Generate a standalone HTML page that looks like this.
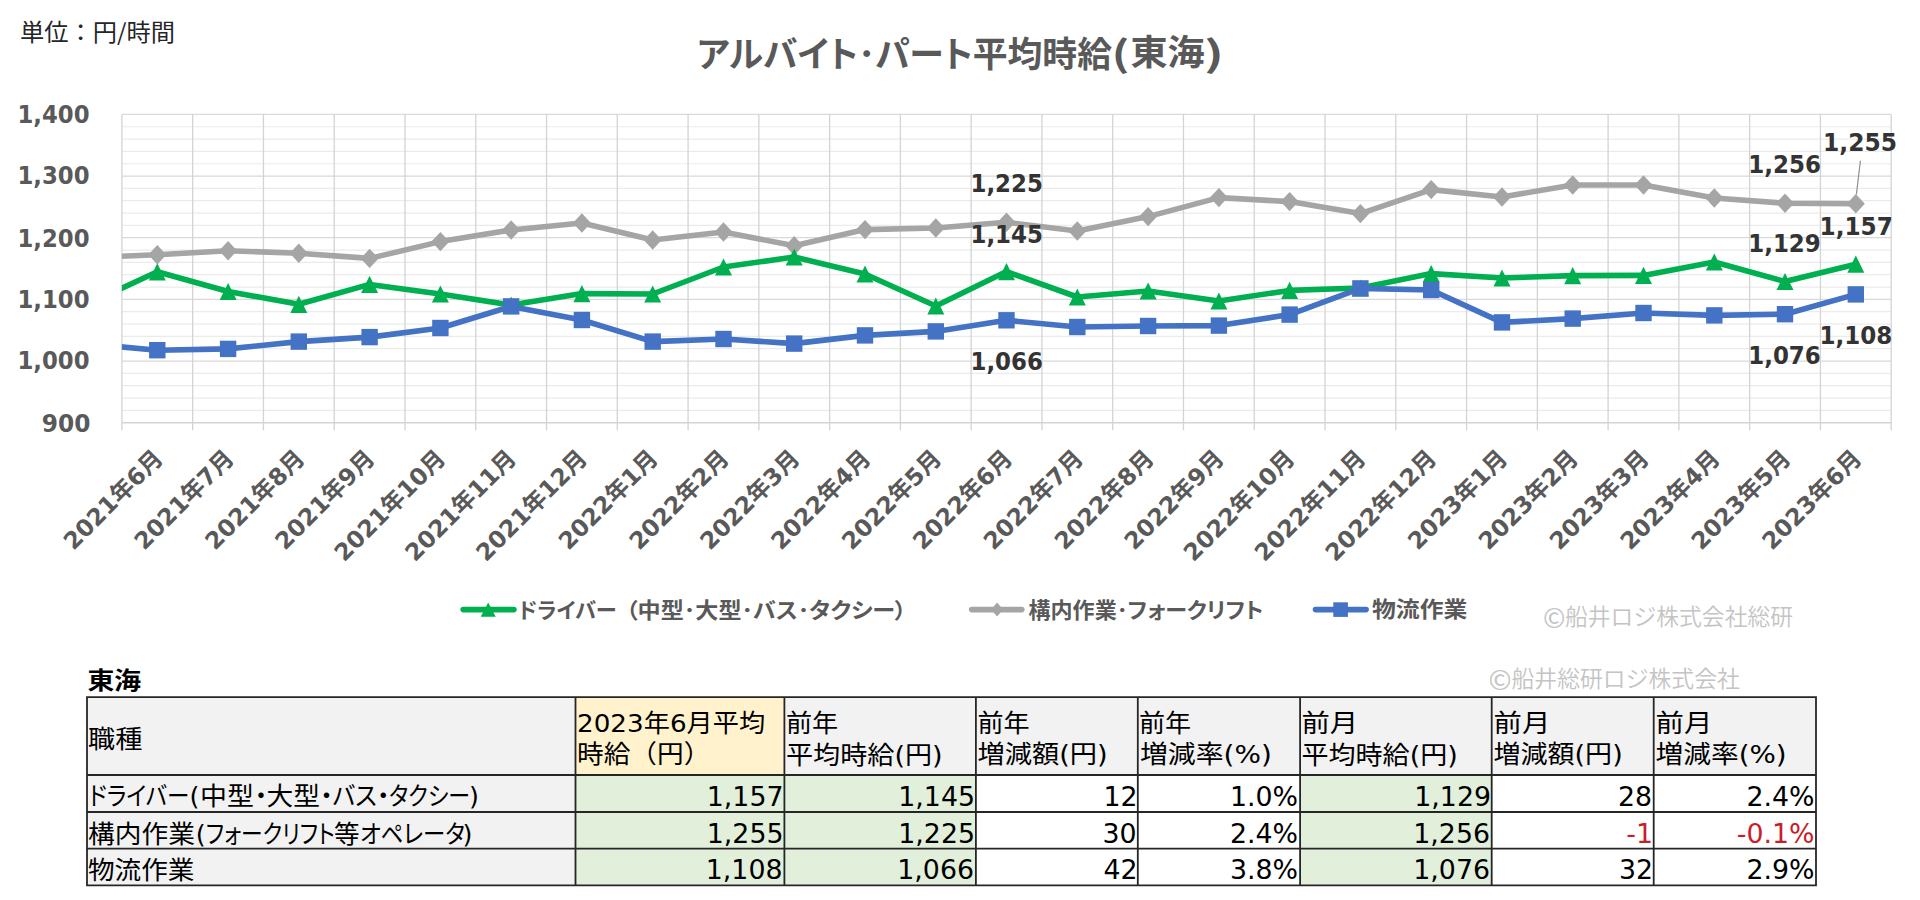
<!DOCTYPE html><html lang="ja"><head><meta charset="utf-8"><title>アルバイト・パート平均時給(東海)</title>
<style>html,body{margin:0;padding:0;background:#fff;}body{width:1920px;height:900px;overflow:hidden;position:relative;}svg{position:absolute;left:0;top:0;display:block;}</style></head><body>
<svg width="1920" height="900" viewBox="0 0 1920 900">
<defs><clipPath id="pc"><rect x="121.9" y="84.4" width="1769.3" height="368.3"/></clipPath></defs>
<rect width="1920" height="900" fill="#fff"/>
<path d="M121.9 126.73H1891.2 M121.9 139.06H1891.2 M121.9 151.40H1891.2 M121.9 163.73H1891.2 M121.9 188.39H1891.2 M121.9 200.72H1891.2 M121.9 213.06H1891.2 M121.9 225.39H1891.2 M121.9 250.05H1891.2 M121.9 262.38H1891.2 M121.9 274.72H1891.2 M121.9 287.05H1891.2 M121.9 311.71H1891.2 M121.9 324.04H1891.2 M121.9 336.38H1891.2 M121.9 348.71H1891.2 M121.9 373.37H1891.2 M121.9 385.70H1891.2 M121.9 398.04H1891.2 M121.9 410.37H1891.2" stroke="#ebebeb" stroke-width="1.2" fill="none"/>
<path d="M121.9 114.40H1891.2 M121.9 176.06H1891.2 M121.9 237.72H1891.2 M121.9 299.38H1891.2 M121.9 361.04H1891.2" stroke="#d9d9d9" stroke-width="1.3" fill="none"/>
<path d="M121.90 114.4V430.2 M192.67 114.4V430.2 M263.44 114.4V430.2 M334.22 114.4V430.2 M404.99 114.4V430.2 M475.76 114.4V430.2 M546.53 114.4V430.2 M617.30 114.4V430.2 M688.08 114.4V430.2 M758.85 114.4V430.2 M829.62 114.4V430.2 M900.39 114.4V430.2 M971.16 114.4V430.2 M1041.94 114.4V430.2 M1112.71 114.4V430.2 M1183.48 114.4V430.2 M1254.25 114.4V430.2 M1325.02 114.4V430.2 M1395.80 114.4V430.2 M1466.57 114.4V430.2 M1537.34 114.4V430.2 M1608.11 114.4V430.2 M1678.88 114.4V430.2 M1749.66 114.4V430.2 M1820.43 114.4V430.2 M1891.20 114.4V430.2" stroke="#d4d4d4" stroke-width="1.3" fill="none"/>
<path d="M121.9 422.70H1891.2" stroke="#d4d4d4" stroke-width="1.5" fill="none"/>
<path d="M86.5 257.5 L157.3 254.8 L228.1 250.7 L298.8 253.3 L369.6 258.4 L440.4 241.6 L511.1 230.0 L581.9 223.0 L652.7 240.0 L723.5 232.0 L794.2 245.8 L865.0 229.6 L935.8 228.0 L1006.5 222.3 L1077.3 231.0 L1148.1 216.6 L1218.9 197.6 L1289.6 201.6 L1360.4 213.6 L1431.2 189.6 L1502.0 197.0 L1572.7 185.0 L1643.5 185.0 L1714.3 198.0 L1785.0 203.2 L1855.8 203.8" stroke="#a5a5a5" stroke-width="5.6" fill="none" stroke-linejoin="round" stroke-linecap="round" clip-path="url(#pc)"/>
<path d="M157.3 245.1L166.3 254.8L157.3 264.5L148.3 254.8Z" fill="#a5a5a5"/><path d="M228.1 241.0L237.1 250.7L228.1 260.4L219.1 250.7Z" fill="#a5a5a5"/><path d="M298.8 243.6L307.8 253.3L298.8 263.0L289.8 253.3Z" fill="#a5a5a5"/><path d="M369.6 248.7L378.6 258.4L369.6 268.1L360.6 258.4Z" fill="#a5a5a5"/><path d="M440.4 231.9L449.4 241.6L440.4 251.3L431.4 241.6Z" fill="#a5a5a5"/><path d="M511.1 220.3L520.1 230.0L511.1 239.7L502.1 230.0Z" fill="#a5a5a5"/><path d="M581.9 213.3L590.9 223.0L581.9 232.7L572.9 223.0Z" fill="#a5a5a5"/><path d="M652.7 230.3L661.7 240.0L652.7 249.7L643.7 240.0Z" fill="#a5a5a5"/><path d="M723.5 222.3L732.5 232.0L723.5 241.7L714.5 232.0Z" fill="#a5a5a5"/><path d="M794.2 236.1L803.2 245.8L794.2 255.5L785.2 245.8Z" fill="#a5a5a5"/><path d="M865.0 219.9L874.0 229.6L865.0 239.3L856.0 229.6Z" fill="#a5a5a5"/><path d="M935.8 218.3L944.8 228.0L935.8 237.7L926.8 228.0Z" fill="#a5a5a5"/><path d="M1006.5 212.6L1015.5 222.3L1006.5 232.0L997.5 222.3Z" fill="#a5a5a5"/><path d="M1077.3 221.3L1086.3 231.0L1077.3 240.7L1068.3 231.0Z" fill="#a5a5a5"/><path d="M1148.1 206.9L1157.1 216.6L1148.1 226.3L1139.1 216.6Z" fill="#a5a5a5"/><path d="M1218.9 187.9L1227.9 197.6L1218.9 207.3L1209.9 197.6Z" fill="#a5a5a5"/><path d="M1289.6 191.9L1298.6 201.6L1289.6 211.3L1280.6 201.6Z" fill="#a5a5a5"/><path d="M1360.4 203.9L1369.4 213.6L1360.4 223.3L1351.4 213.6Z" fill="#a5a5a5"/><path d="M1431.2 179.9L1440.2 189.6L1431.2 199.3L1422.2 189.6Z" fill="#a5a5a5"/><path d="M1502.0 187.3L1511.0 197.0L1502.0 206.7L1493.0 197.0Z" fill="#a5a5a5"/><path d="M1572.7 175.3L1581.7 185.0L1572.7 194.7L1563.7 185.0Z" fill="#a5a5a5"/><path d="M1643.5 175.3L1652.5 185.0L1643.5 194.7L1634.5 185.0Z" fill="#a5a5a5"/><path d="M1714.3 188.3L1723.3 198.0L1714.3 207.7L1705.3 198.0Z" fill="#a5a5a5"/><path d="M1785.0 193.5L1794.0 203.2L1785.0 212.9L1776.0 203.2Z" fill="#a5a5a5"/><path d="M1855.8 194.1L1864.8 203.8L1855.8 213.5L1846.8 203.8Z" fill="#a5a5a5"/>
<path d="M86.5 304.5 L157.3 271.8 L228.1 291.5 L298.8 304.3 L369.6 284.4 L440.4 294.0 L511.1 305.0 L581.9 293.6 L652.7 294.0 L723.5 267.0 L794.2 257.0 L865.0 274.0 L935.8 306.0 L1006.5 271.6 L1077.3 297.0 L1148.1 291.0 L1218.9 301.0 L1289.6 290.4 L1360.4 288.0 L1431.2 273.6 L1502.0 278.0 L1572.7 275.6 L1643.5 275.4 L1714.3 262.0 L1785.0 281.5 L1855.8 264.2" stroke="#00b050" stroke-width="5.6" fill="none" stroke-linejoin="round" stroke-linecap="round" clip-path="url(#pc)"/>
<path d="M157.3 263.2L165.8 280.4L148.8 280.4Z" fill="#00b050"/><path d="M228.1 282.9L236.6 300.1L219.6 300.1Z" fill="#00b050"/><path d="M298.8 295.7L307.3 312.9L290.3 312.9Z" fill="#00b050"/><path d="M369.6 275.8L378.1 293.0L361.1 293.0Z" fill="#00b050"/><path d="M440.4 285.4L448.9 302.6L431.9 302.6Z" fill="#00b050"/><path d="M511.1 296.4L519.6 313.6L502.6 313.6Z" fill="#00b050"/><path d="M581.9 285.0L590.4 302.2L573.4 302.2Z" fill="#00b050"/><path d="M652.7 285.4L661.2 302.6L644.2 302.6Z" fill="#00b050"/><path d="M723.5 258.4L732.0 275.6L715.0 275.6Z" fill="#00b050"/><path d="M794.2 248.4L802.7 265.6L785.7 265.6Z" fill="#00b050"/><path d="M865.0 265.4L873.5 282.6L856.5 282.6Z" fill="#00b050"/><path d="M935.8 297.4L944.3 314.6L927.3 314.6Z" fill="#00b050"/><path d="M1006.5 263.0L1015.0 280.2L998.0 280.2Z" fill="#00b050"/><path d="M1077.3 288.4L1085.8 305.6L1068.8 305.6Z" fill="#00b050"/><path d="M1148.1 282.4L1156.6 299.6L1139.6 299.6Z" fill="#00b050"/><path d="M1218.9 292.4L1227.4 309.6L1210.4 309.6Z" fill="#00b050"/><path d="M1289.6 281.8L1298.1 299.0L1281.1 299.0Z" fill="#00b050"/><path d="M1360.4 279.4L1368.9 296.6L1351.9 296.6Z" fill="#00b050"/><path d="M1431.2 265.0L1439.7 282.2L1422.7 282.2Z" fill="#00b050"/><path d="M1502.0 269.4L1510.5 286.6L1493.5 286.6Z" fill="#00b050"/><path d="M1572.7 267.0L1581.2 284.2L1564.2 284.2Z" fill="#00b050"/><path d="M1643.5 266.8L1652.0 284.0L1635.0 284.0Z" fill="#00b050"/><path d="M1714.3 253.4L1722.8 270.6L1705.8 270.6Z" fill="#00b050"/><path d="M1785.0 272.9L1793.5 290.1L1776.5 290.1Z" fill="#00b050"/><path d="M1855.8 255.6L1864.3 272.8L1847.3 272.8Z" fill="#00b050"/>
<path d="M86.5 343.7 L157.3 350.2 L228.1 348.9 L298.8 341.6 L369.6 337.1 L440.4 328.0 L511.1 306.4 L581.9 320.0 L652.7 341.6 L723.5 339.0 L794.2 343.6 L865.0 335.4 L935.8 331.4 L1006.5 320.3 L1077.3 327.0 L1148.1 326.0 L1218.9 325.6 L1289.6 314.6 L1360.4 288.4 L1431.2 290.0 L1502.0 322.4 L1572.7 318.6 L1643.5 313.0 L1714.3 315.4 L1785.0 314.2 L1855.8 294.4" stroke="#4472c4" stroke-width="5.6" fill="none" stroke-linejoin="round" stroke-linecap="round" clip-path="url(#pc)"/>
<rect x="149.1" y="342.0" width="16.4" height="16.4" fill="#4472c4"/><rect x="219.9" y="340.7" width="16.4" height="16.4" fill="#4472c4"/><rect x="290.6" y="333.4" width="16.4" height="16.4" fill="#4472c4"/><rect x="361.4" y="328.9" width="16.4" height="16.4" fill="#4472c4"/><rect x="432.2" y="319.8" width="16.4" height="16.4" fill="#4472c4"/><rect x="502.9" y="298.2" width="16.4" height="16.4" fill="#4472c4"/><rect x="573.7" y="311.8" width="16.4" height="16.4" fill="#4472c4"/><rect x="644.5" y="333.4" width="16.4" height="16.4" fill="#4472c4"/><rect x="715.3" y="330.8" width="16.4" height="16.4" fill="#4472c4"/><rect x="786.0" y="335.4" width="16.4" height="16.4" fill="#4472c4"/><rect x="856.8" y="327.2" width="16.4" height="16.4" fill="#4472c4"/><rect x="927.6" y="323.2" width="16.4" height="16.4" fill="#4472c4"/><rect x="998.3" y="312.1" width="16.4" height="16.4" fill="#4472c4"/><rect x="1069.1" y="318.8" width="16.4" height="16.4" fill="#4472c4"/><rect x="1139.9" y="317.8" width="16.4" height="16.4" fill="#4472c4"/><rect x="1210.7" y="317.4" width="16.4" height="16.4" fill="#4472c4"/><rect x="1281.4" y="306.4" width="16.4" height="16.4" fill="#4472c4"/><rect x="1352.2" y="280.2" width="16.4" height="16.4" fill="#4472c4"/><rect x="1423.0" y="281.8" width="16.4" height="16.4" fill="#4472c4"/><rect x="1493.8" y="314.2" width="16.4" height="16.4" fill="#4472c4"/><rect x="1564.5" y="310.4" width="16.4" height="16.4" fill="#4472c4"/><rect x="1635.3" y="304.8" width="16.4" height="16.4" fill="#4472c4"/><rect x="1706.1" y="307.2" width="16.4" height="16.4" fill="#4472c4"/><rect x="1776.8" y="306.0" width="16.4" height="16.4" fill="#4472c4"/><rect x="1847.6" y="286.2" width="16.4" height="16.4" fill="#4472c4"/>
<path d="M1860.4 160.8L1856.4 194.5" stroke="#8f8f8f" stroke-width="1.2" fill="none"/>
<path d="M463.2 609.6H513.9" stroke="#00b050" stroke-width="5.6" stroke-linecap="round"/><path d="M488.2 602.5L495.7 616.7L480.7 616.7Z" fill="#00b050"/>
<path d="M971.7 609.6H1021.8" stroke="#a5a5a5" stroke-width="5.6" stroke-linecap="round"/><path d="M997.1 602.6L1003.1 609.6L997.1 616.6L991.1 609.6Z" fill="#a5a5a5"/>
<path d="M1315.5 609.6H1366.1" stroke="#4472c4" stroke-width="5.6" stroke-linecap="round"/><rect x="1333.3" y="602.3" width="14.6" height="14.6" fill="#4472c4"/>
<rect x="87.0" y="697.1" width="488.5" height="77.9" fill="#f2f2f2"/>
<rect x="575.5" y="697.1" width="208.9" height="77.9" fill="#fff2cc"/>
<rect x="784.4" y="697.1" width="191.5" height="77.9" fill="#f2f2f2"/>
<rect x="975.9" y="697.1" width="161.9" height="77.9" fill="#f2f2f2"/>
<rect x="1137.8" y="697.1" width="162.3" height="77.9" fill="#f2f2f2"/>
<rect x="1300.1" y="697.1" width="191.6" height="77.9" fill="#f2f2f2"/>
<rect x="1491.7" y="697.1" width="162.0" height="77.9" fill="#f2f2f2"/>
<rect x="1653.7" y="697.1" width="162.3" height="77.9" fill="#f2f2f2"/>
<rect x="87.0" y="775.0" width="488.5" height="37.0" fill="#f2f2f2"/>
<rect x="575.5" y="775.0" width="208.9" height="37.0" fill="#e2efda"/>
<rect x="784.4" y="775.0" width="191.5" height="37.0" fill="#e2efda"/>
<rect x="975.9" y="775.0" width="161.9" height="37.0" fill="#fff"/>
<rect x="1137.8" y="775.0" width="162.3" height="37.0" fill="#fff"/>
<rect x="1300.1" y="775.0" width="191.6" height="37.0" fill="#e2efda"/>
<rect x="1491.7" y="775.0" width="162.0" height="37.0" fill="#fff"/>
<rect x="1653.7" y="775.0" width="162.3" height="37.0" fill="#fff"/>
<rect x="87.0" y="812.0" width="488.5" height="36.6" fill="#f2f2f2"/>
<rect x="575.5" y="812.0" width="208.9" height="36.6" fill="#e2efda"/>
<rect x="784.4" y="812.0" width="191.5" height="36.6" fill="#e2efda"/>
<rect x="975.9" y="812.0" width="161.9" height="36.6" fill="#fff"/>
<rect x="1137.8" y="812.0" width="162.3" height="36.6" fill="#fff"/>
<rect x="1300.1" y="812.0" width="191.6" height="36.6" fill="#e2efda"/>
<rect x="1491.7" y="812.0" width="162.0" height="36.6" fill="#fff"/>
<rect x="1653.7" y="812.0" width="162.3" height="36.6" fill="#fff"/>
<rect x="87.0" y="848.6" width="488.5" height="36.8" fill="#f2f2f2"/>
<rect x="575.5" y="848.6" width="208.9" height="36.8" fill="#e2efda"/>
<rect x="784.4" y="848.6" width="191.5" height="36.8" fill="#e2efda"/>
<rect x="975.9" y="848.6" width="161.9" height="36.8" fill="#fff"/>
<rect x="1137.8" y="848.6" width="162.3" height="36.8" fill="#fff"/>
<rect x="1300.1" y="848.6" width="191.6" height="36.8" fill="#e2efda"/>
<rect x="1491.7" y="848.6" width="162.0" height="36.8" fill="#fff"/>
<rect x="1653.7" y="848.6" width="162.3" height="36.8" fill="#fff"/>
<path d="M86.1 697.1H1816.9 M86.1 775.0H1816.9 M86.1 812.0H1816.9 M86.1 848.6H1816.9 M86.1 885.4H1816.9 M87.0 697.1V885.4 M575.5 697.1V885.4 M784.4 697.1V885.4 M975.9 697.1V885.4 M1137.8 697.1V885.4 M1300.1 697.1V885.4 M1491.7 697.1V885.4 M1653.7 697.1V885.4 M1816.0 697.1V885.4" stroke="#262626" stroke-width="1.8" fill="none"/>
<text x="20.00" y="40.97" font-family="'Noto Sans CJK JP',sans-serif" font-weight="400" font-size="23.5" fill="#262626" textLength="155.02" lengthAdjust="spacingAndGlyphs">単位：円/時間</text>
<text x="697.00" y="66.67" font-family="'Noto Sans CJK JP',sans-serif" font-weight="700" font-size="35.5" fill="#595959" textLength="415.00" lengthAdjust="spacingAndGlyphs" style="font-feature-settings:'palt'">アルバイト･パート平均時給</text>
<text x="1111.50" y="66.67" font-family="'Noto Sans CJK JP',sans-serif" font-weight="700" font-size="35.5" fill="#595959" textLength="18.12" lengthAdjust="spacingAndGlyphs">(</text>
<text x="1130.50" y="65.18" font-family="'Noto Sans CJK JP',sans-serif" font-weight="700" font-size="35.5" fill="#595959" textLength="74.21" lengthAdjust="spacingAndGlyphs">東海</text>
<text x="1204.00" y="66.67" font-family="'Noto Sans CJK JP',sans-serif" font-weight="700" font-size="35.5" fill="#595959" textLength="20.01" lengthAdjust="spacingAndGlyphs">)</text>
<text x="89.50" y="123.00" text-anchor="end" font-family="'DejaVu Sans','Noto Sans CJK JP',sans-serif" font-weight="700" font-size="24" fill="#595959" textLength="72.03" lengthAdjust="spacingAndGlyphs">1,400</text>
<text x="89.50" y="184.30" text-anchor="end" font-family="'DejaVu Sans','Noto Sans CJK JP',sans-serif" font-weight="700" font-size="24" fill="#595959" textLength="72.03" lengthAdjust="spacingAndGlyphs">1,300</text>
<text x="89.50" y="246.60" text-anchor="end" font-family="'DejaVu Sans','Noto Sans CJK JP',sans-serif" font-weight="700" font-size="24" fill="#595959" textLength="72.03" lengthAdjust="spacingAndGlyphs">1,200</text>
<text x="89.50" y="307.90" text-anchor="end" font-family="'DejaVu Sans','Noto Sans CJK JP',sans-serif" font-weight="700" font-size="24" fill="#595959" textLength="72.03" lengthAdjust="spacingAndGlyphs">1,100</text>
<text x="89.50" y="369.20" text-anchor="end" font-family="'DejaVu Sans','Noto Sans CJK JP',sans-serif" font-weight="700" font-size="24" fill="#595959" textLength="72.03" lengthAdjust="spacingAndGlyphs">1,000</text>
<text x="90.50" y="431.50" text-anchor="end" font-family="'DejaVu Sans','Noto Sans CJK JP',sans-serif" font-weight="700" font-size="24" fill="#595959" textLength="48.65" lengthAdjust="spacingAndGlyphs">900</text>
<text transform="translate(164.43 460.00) rotate(-45)" text-anchor="end" font-family="'DejaVu Sans','Noto Sans CJK JP',sans-serif" font-weight="700" font-size="23.5" fill="#595959">2021年6月</text>
<text transform="translate(235.29 460.00) rotate(-45)" text-anchor="end" font-family="'DejaVu Sans','Noto Sans CJK JP',sans-serif" font-weight="700" font-size="23.5" fill="#595959">2021年7月</text>
<text transform="translate(306.15 460.00) rotate(-45)" text-anchor="end" font-family="'DejaVu Sans','Noto Sans CJK JP',sans-serif" font-weight="700" font-size="23.5" fill="#595959">2021年8月</text>
<text transform="translate(376.01 460.00) rotate(-45)" text-anchor="end" font-family="'DejaVu Sans','Noto Sans CJK JP',sans-serif" font-weight="700" font-size="23.5" fill="#595959">2021年9月</text>
<text transform="translate(446.87 460.00) rotate(-45)" text-anchor="end" font-family="'DejaVu Sans','Noto Sans CJK JP',sans-serif" font-weight="700" font-size="23.5" fill="#595959">2021年10月</text>
<text transform="translate(517.73 460.00) rotate(-45)" text-anchor="end" font-family="'DejaVu Sans','Noto Sans CJK JP',sans-serif" font-weight="700" font-size="23.5" fill="#595959">2021年11月</text>
<text transform="translate(588.59 460.00) rotate(-45)" text-anchor="end" font-family="'DejaVu Sans','Noto Sans CJK JP',sans-serif" font-weight="700" font-size="23.5" fill="#595959">2021年12月</text>
<text transform="translate(659.45 460.00) rotate(-45)" text-anchor="end" font-family="'DejaVu Sans','Noto Sans CJK JP',sans-serif" font-weight="700" font-size="23.5" fill="#595959">2022年1月</text>
<text transform="translate(730.31 460.00) rotate(-45)" text-anchor="end" font-family="'DejaVu Sans','Noto Sans CJK JP',sans-serif" font-weight="700" font-size="23.5" fill="#595959">2022年2月</text>
<text transform="translate(801.17 460.00) rotate(-45)" text-anchor="end" font-family="'DejaVu Sans','Noto Sans CJK JP',sans-serif" font-weight="700" font-size="23.5" fill="#595959">2022年3月</text>
<text transform="translate(872.03 460.00) rotate(-45)" text-anchor="end" font-family="'DejaVu Sans','Noto Sans CJK JP',sans-serif" font-weight="700" font-size="23.5" fill="#595959">2022年4月</text>
<text transform="translate(942.89 460.00) rotate(-45)" text-anchor="end" font-family="'DejaVu Sans','Noto Sans CJK JP',sans-serif" font-weight="700" font-size="23.5" fill="#595959">2022年5月</text>
<text transform="translate(1013.75 460.00) rotate(-45)" text-anchor="end" font-family="'DejaVu Sans','Noto Sans CJK JP',sans-serif" font-weight="700" font-size="23.5" fill="#595959">2022年6月</text>
<text transform="translate(1084.61 460.00) rotate(-45)" text-anchor="end" font-family="'DejaVu Sans','Noto Sans CJK JP',sans-serif" font-weight="700" font-size="23.5" fill="#595959">2022年7月</text>
<text transform="translate(1155.47 460.00) rotate(-45)" text-anchor="end" font-family="'DejaVu Sans','Noto Sans CJK JP',sans-serif" font-weight="700" font-size="23.5" fill="#595959">2022年8月</text>
<text transform="translate(1225.33 460.00) rotate(-45)" text-anchor="end" font-family="'DejaVu Sans','Noto Sans CJK JP',sans-serif" font-weight="700" font-size="23.5" fill="#595959">2022年9月</text>
<text transform="translate(1296.19 460.00) rotate(-45)" text-anchor="end" font-family="'DejaVu Sans','Noto Sans CJK JP',sans-serif" font-weight="700" font-size="23.5" fill="#595959">2022年10月</text>
<text transform="translate(1367.05 460.00) rotate(-45)" text-anchor="end" font-family="'DejaVu Sans','Noto Sans CJK JP',sans-serif" font-weight="700" font-size="23.5" fill="#595959">2022年11月</text>
<text transform="translate(1437.91 460.00) rotate(-45)" text-anchor="end" font-family="'DejaVu Sans','Noto Sans CJK JP',sans-serif" font-weight="700" font-size="23.5" fill="#595959">2022年12月</text>
<text transform="translate(1508.77 460.00) rotate(-45)" text-anchor="end" font-family="'DejaVu Sans','Noto Sans CJK JP',sans-serif" font-weight="700" font-size="23.5" fill="#595959">2023年1月</text>
<text transform="translate(1579.63 460.00) rotate(-45)" text-anchor="end" font-family="'DejaVu Sans','Noto Sans CJK JP',sans-serif" font-weight="700" font-size="23.5" fill="#595959">2023年2月</text>
<text transform="translate(1650.49 460.00) rotate(-45)" text-anchor="end" font-family="'DejaVu Sans','Noto Sans CJK JP',sans-serif" font-weight="700" font-size="23.5" fill="#595959">2023年3月</text>
<text transform="translate(1721.35 460.00) rotate(-45)" text-anchor="end" font-family="'DejaVu Sans','Noto Sans CJK JP',sans-serif" font-weight="700" font-size="23.5" fill="#595959">2023年4月</text>
<text transform="translate(1792.21 460.00) rotate(-45)" text-anchor="end" font-family="'DejaVu Sans','Noto Sans CJK JP',sans-serif" font-weight="700" font-size="23.5" fill="#595959">2023年5月</text>
<text transform="translate(1863.07 460.00) rotate(-45)" text-anchor="end" font-family="'DejaVu Sans','Noto Sans CJK JP',sans-serif" font-weight="700" font-size="23.5" fill="#595959">2023年6月</text>
<text x="970.50" y="191.83" font-family="'DejaVu Sans','Noto Sans CJK JP',sans-serif" font-weight="700" font-size="24.5" fill="#333333" textLength="72.41" lengthAdjust="spacingAndGlyphs">1,225</text>
<text x="970.50" y="242.83" font-family="'DejaVu Sans','Noto Sans CJK JP',sans-serif" font-weight="700" font-size="24.5" fill="#333333" textLength="72.41" lengthAdjust="spacingAndGlyphs">1,145</text>
<text x="970.50" y="370.33" font-family="'DejaVu Sans','Noto Sans CJK JP',sans-serif" font-weight="700" font-size="24.5" fill="#333333" textLength="72.41" lengthAdjust="spacingAndGlyphs">1,066</text>
<text x="1748.25" y="172.82" font-family="'DejaVu Sans','Noto Sans CJK JP',sans-serif" font-weight="700" font-size="24.5" fill="#333333" textLength="72.74" lengthAdjust="spacingAndGlyphs">1,256</text>
<text x="1823.00" y="151.33" font-family="'DejaVu Sans','Noto Sans CJK JP',sans-serif" font-weight="700" font-size="24.5" fill="#333333" textLength="73.91" lengthAdjust="spacingAndGlyphs">1,255</text>
<text x="1748.25" y="251.82" font-family="'DejaVu Sans','Noto Sans CJK JP',sans-serif" font-weight="700" font-size="24.5" fill="#333333" textLength="72.46" lengthAdjust="spacingAndGlyphs">1,129</text>
<text x="1819.50" y="235.32" font-family="'DejaVu Sans','Noto Sans CJK JP',sans-serif" font-weight="700" font-size="24.5" fill="#333333" textLength="73.37" lengthAdjust="spacingAndGlyphs">1,157</text>
<text x="1748.25" y="363.83" font-family="'DejaVu Sans','Noto Sans CJK JP',sans-serif" font-weight="700" font-size="24.5" fill="#333333" textLength="72.53" lengthAdjust="spacingAndGlyphs">1,076</text>
<text x="1819.50" y="344.07" font-family="'DejaVu Sans','Noto Sans CJK JP',sans-serif" font-weight="700" font-size="24.5" fill="#333333" textLength="72.68" lengthAdjust="spacingAndGlyphs">1,108</text>
<text x="518.50" y="617.77" font-family="'Noto Sans CJK JP',sans-serif" font-weight="700" font-size="21.5" fill="#595959" textLength="98.12" lengthAdjust="spacingAndGlyphs" style="font-feature-settings:'palt'">ドライバー</text>
<text x="626.00" y="618.28" font-family="'Noto Sans CJK JP',sans-serif" font-weight="700" font-size="21.5" fill="#595959" textLength="280.41" lengthAdjust="spacingAndGlyphs" style="font-feature-settings:'palt'">（中型･大型･バス･タクシー）</text>
<text x="1028.50" y="617.77" font-family="'Noto Sans CJK JP',sans-serif" font-weight="700" font-size="21.5" fill="#595959" textLength="234.90" lengthAdjust="spacingAndGlyphs" style="font-feature-settings:'palt'">構内作業･フォークリフト</text>
<text x="1372.00" y="617.27" font-family="'Noto Sans CJK JP',sans-serif" font-weight="700" font-size="21.5" fill="#595959" textLength="95.34" lengthAdjust="spacingAndGlyphs" style="font-feature-settings:'palt'">物流作業</text>
<text x="1543.00" y="628.00" font-family="'Noto Sans CJK JP',sans-serif" font-weight="400" font-size="27.06" fill="#c4c4c4" textLength="22.42" lengthAdjust="spacingAndGlyphs">©</text>
<text x="1565.00" y="624.55" font-family="'Noto Sans CJK JP',sans-serif" font-weight="350" font-size="23" fill="#c4c4c4" textLength="228.09" lengthAdjust="spacingAndGlyphs">船井ロジ株式会社総研</text>
<text x="1488.50" y="690.00" font-family="'Noto Sans CJK JP',sans-serif" font-weight="400" font-size="27.06" fill="#c4c4c4" textLength="23.12" lengthAdjust="spacingAndGlyphs">©</text>
<text x="1511.50" y="687.05" font-family="'Noto Sans CJK JP',sans-serif" font-weight="350" font-size="23" fill="#c4c4c4" textLength="228.29" lengthAdjust="spacingAndGlyphs">船井総研ロジ株式会社</text>
<text x="87.50" y="689.47" font-family="'Noto Sans CJK JP',sans-serif" font-weight="700" font-size="23.5" fill="#000" textLength="53.66" lengthAdjust="spacingAndGlyphs">東海</text>
<text x="88.00" y="748.17" font-family="'DejaVu Sans','Noto Sans CJK JP',sans-serif" font-weight="400" font-size="25.5" fill="#000" textLength="54.35" lengthAdjust="spacingAndGlyphs">職種</text>
<text x="577.00" y="731.68" font-family="'DejaVu Sans','Noto Sans CJK JP',sans-serif" font-weight="400" font-size="25.5" fill="#000" textLength="188.21" lengthAdjust="spacingAndGlyphs">2023年6月平均</text>
<text x="577.00" y="763.17" font-family="'DejaVu Sans','Noto Sans CJK JP',sans-serif" font-weight="400" font-size="25.5" fill="#000" textLength="133.30" lengthAdjust="spacingAndGlyphs">時給（円）</text>
<text x="786.00" y="731.67" font-family="'DejaVu Sans','Noto Sans CJK JP',sans-serif" font-weight="400" font-size="25.5" fill="#000" textLength="52.21" lengthAdjust="spacingAndGlyphs">前年</text>
<text x="786.00" y="763.67" font-family="'DejaVu Sans','Noto Sans CJK JP',sans-serif" font-weight="400" font-size="25.5" fill="#000" textLength="156.62" lengthAdjust="spacingAndGlyphs">平均時給(円)</text>
<text x="977.50" y="731.67" font-family="'DejaVu Sans','Noto Sans CJK JP',sans-serif" font-weight="400" font-size="25.5" fill="#000" textLength="52.17" lengthAdjust="spacingAndGlyphs">前年</text>
<text x="977.50" y="762.67" font-family="'DejaVu Sans','Noto Sans CJK JP',sans-serif" font-weight="400" font-size="25.5" fill="#000" textLength="130.21" lengthAdjust="spacingAndGlyphs">増減額(円)</text>
<text x="1139.00" y="731.67" font-family="'DejaVu Sans','Noto Sans CJK JP',sans-serif" font-weight="400" font-size="25.5" fill="#000" textLength="52.17" lengthAdjust="spacingAndGlyphs">前年</text>
<text x="1140.00" y="762.67" font-family="'DejaVu Sans','Noto Sans CJK JP',sans-serif" font-weight="400" font-size="25.5" fill="#000" textLength="131.78" lengthAdjust="spacingAndGlyphs">増減率(%)</text>
<text x="1301.50" y="731.67" font-family="'DejaVu Sans','Noto Sans CJK JP',sans-serif" font-weight="400" font-size="25.5" fill="#000" textLength="56.73" lengthAdjust="spacingAndGlyphs">前月</text>
<text x="1301.50" y="763.67" font-family="'DejaVu Sans','Noto Sans CJK JP',sans-serif" font-weight="400" font-size="25.5" fill="#000" textLength="156.31" lengthAdjust="spacingAndGlyphs">平均時給(円)</text>
<text x="1493.50" y="731.67" font-family="'DejaVu Sans','Noto Sans CJK JP',sans-serif" font-weight="400" font-size="25.5" fill="#000" textLength="56.81" lengthAdjust="spacingAndGlyphs">前月</text>
<text x="1493.50" y="762.67" font-family="'DejaVu Sans','Noto Sans CJK JP',sans-serif" font-weight="400" font-size="25.5" fill="#000" textLength="129.18" lengthAdjust="spacingAndGlyphs">増減額(円)</text>
<text x="1655.50" y="731.67" font-family="'DejaVu Sans','Noto Sans CJK JP',sans-serif" font-weight="400" font-size="25.5" fill="#000" textLength="56.81" lengthAdjust="spacingAndGlyphs">前月</text>
<text x="1655.50" y="762.67" font-family="'DejaVu Sans','Noto Sans CJK JP',sans-serif" font-weight="400" font-size="25.5" fill="#000" textLength="131.16" lengthAdjust="spacingAndGlyphs">増減率(%)</text>
<text x="89.00" y="805.17" font-family="'DejaVu Sans','Noto Sans CJK JP',sans-serif" font-weight="400" font-size="25.5" fill="#000" textLength="100.27" lengthAdjust="spacingAndGlyphs" style="font-feature-settings:'palt'">ドライバー</text>
<text x="189.50" y="805.17" font-family="'DejaVu Sans','Noto Sans CJK JP',sans-serif" font-weight="400" font-size="25.5" fill="#000" style="font-feature-settings:'palt'">(</text>
<text x="200.00" y="805.17" font-family="'DejaVu Sans','Noto Sans CJK JP',sans-serif" font-weight="400" font-size="25.5" fill="#000" textLength="53.90" lengthAdjust="spacingAndGlyphs" style="font-feature-settings:'palt'">中型</text>
<text x="254.60" y="805.17" font-family="'DejaVu Sans','Noto Sans CJK JP',sans-serif" font-weight="400" font-size="25.5" fill="#000" style="font-feature-settings:'palt'">・</text>
<text x="266.50" y="805.17" font-family="'DejaVu Sans','Noto Sans CJK JP',sans-serif" font-weight="400" font-size="25.5" fill="#000" textLength="53.48" lengthAdjust="spacingAndGlyphs" style="font-feature-settings:'palt'">大型</text>
<text x="320.20" y="805.17" font-family="'DejaVu Sans','Noto Sans CJK JP',sans-serif" font-weight="400" font-size="25.5" fill="#000" style="font-feature-settings:'palt'">・</text>
<text x="332.50" y="805.17" font-family="'DejaVu Sans','Noto Sans CJK JP',sans-serif" font-weight="400" font-size="25.5" fill="#000" textLength="44.37" lengthAdjust="spacingAndGlyphs" style="font-feature-settings:'palt'">バス</text>
<text x="376.80" y="805.17" font-family="'DejaVu Sans','Noto Sans CJK JP',sans-serif" font-weight="400" font-size="25.5" fill="#000" style="font-feature-settings:'palt'">・</text>
<text x="389.00" y="805.17" font-family="'DejaVu Sans','Noto Sans CJK JP',sans-serif" font-weight="400" font-size="25.5" fill="#000" textLength="80.98" lengthAdjust="spacingAndGlyphs" style="font-feature-settings:'palt'">タクシー</text>
<text x="469.10" y="805.17" font-family="'DejaVu Sans','Noto Sans CJK JP',sans-serif" font-weight="400" font-size="25.5" fill="#000" style="font-feature-settings:'palt'">)</text>
<text x="88.00" y="843.17" font-family="'DejaVu Sans','Noto Sans CJK JP',sans-serif" font-weight="400" font-size="25.5" fill="#000" textLength="107.02" lengthAdjust="spacingAndGlyphs" style="font-feature-settings:'palt'">構内作業</text>
<text x="195.70" y="843.17" font-family="'DejaVu Sans','Noto Sans CJK JP',sans-serif" font-weight="400" font-size="25.5" fill="#000" style="font-feature-settings:'palt'">(</text>
<text x="206.00" y="843.17" font-family="'DejaVu Sans','Noto Sans CJK JP',sans-serif" font-weight="400" font-size="25.5" fill="#000" textLength="128.78" lengthAdjust="spacingAndGlyphs" style="font-feature-settings:'palt'">フォークリフト</text>
<text x="334.00" y="843.17" font-family="'DejaVu Sans','Noto Sans CJK JP',sans-serif" font-weight="400" font-size="25.5" fill="#000" textLength="25.56" lengthAdjust="spacingAndGlyphs" style="font-feature-settings:'palt'">等</text>
<text x="360.00" y="843.17" font-family="'DejaVu Sans','Noto Sans CJK JP',sans-serif" font-weight="400" font-size="25.5" fill="#000" textLength="104.83" lengthAdjust="spacingAndGlyphs" style="font-feature-settings:'palt'">オペレータ</text>
<text x="462.60" y="843.17" font-family="'DejaVu Sans','Noto Sans CJK JP',sans-serif" font-weight="400" font-size="25.5" fill="#000" style="font-feature-settings:'palt'">)</text>
<text x="88.00" y="878.67" font-family="'DejaVu Sans','Noto Sans CJK JP',sans-serif" font-weight="400" font-size="25.5" fill="#000" textLength="106.51" lengthAdjust="spacingAndGlyphs">物流作業</text>
<text x="783.50" y="805.60" text-anchor="end" font-family="'DejaVu Sans',sans-serif" font-weight="400" font-size="26.8" fill="#000">1,157</text>
<text x="975.00" y="805.60" text-anchor="end" font-family="'DejaVu Sans',sans-serif" font-weight="400" font-size="26.8" fill="#000">1,145</text>
<text x="1137.50" y="805.60" text-anchor="end" font-family="'DejaVu Sans',sans-serif" font-weight="400" font-size="26.8" fill="#000">12</text>
<text x="1298.00" y="805.60" text-anchor="end" font-family="'DejaVu Sans',sans-serif" font-weight="400" font-size="26.8" fill="#000">1.0%</text>
<text x="1491.00" y="805.60" text-anchor="end" font-family="'DejaVu Sans',sans-serif" font-weight="400" font-size="26.8" fill="#000">1,129</text>
<text x="1652.00" y="805.60" text-anchor="end" font-family="'DejaVu Sans',sans-serif" font-weight="400" font-size="26.8" fill="#000">28</text>
<text x="1814.50" y="805.60" text-anchor="end" font-family="'DejaVu Sans',sans-serif" font-weight="400" font-size="26.8" fill="#000">2.4%</text>
<text x="783.50" y="842.60" text-anchor="end" font-family="'DejaVu Sans',sans-serif" font-weight="400" font-size="26.8" fill="#000">1,255</text>
<text x="975.00" y="842.60" text-anchor="end" font-family="'DejaVu Sans',sans-serif" font-weight="400" font-size="26.8" fill="#000">1,225</text>
<text x="1136.50" y="842.60" text-anchor="end" font-family="'DejaVu Sans',sans-serif" font-weight="400" font-size="26.8" fill="#000">30</text>
<text x="1298.00" y="842.60" text-anchor="end" font-family="'DejaVu Sans',sans-serif" font-weight="400" font-size="26.8" fill="#000">2.4%</text>
<text x="1490.00" y="842.60" text-anchor="end" font-family="'DejaVu Sans',sans-serif" font-weight="400" font-size="26.8" fill="#000">1,256</text>
<text x="1653.00" y="842.60" text-anchor="end" font-family="'DejaVu Sans',sans-serif" font-weight="400" font-size="26.8" fill="#c81e28">-1</text>
<text x="1814.50" y="842.60" text-anchor="end" font-family="'DejaVu Sans',sans-serif" font-weight="400" font-size="26.8" fill="#c81e28">-0.1%</text>
<text x="782.50" y="879.10" text-anchor="end" font-family="'DejaVu Sans',sans-serif" font-weight="400" font-size="26.8" fill="#000">1,108</text>
<text x="974.00" y="879.10" text-anchor="end" font-family="'DejaVu Sans',sans-serif" font-weight="400" font-size="26.8" fill="#000">1,066</text>
<text x="1137.50" y="879.10" text-anchor="end" font-family="'DejaVu Sans',sans-serif" font-weight="400" font-size="26.8" fill="#000">42</text>
<text x="1298.00" y="879.10" text-anchor="end" font-family="'DejaVu Sans',sans-serif" font-weight="400" font-size="26.8" fill="#000">3.8%</text>
<text x="1490.00" y="879.10" text-anchor="end" font-family="'DejaVu Sans',sans-serif" font-weight="400" font-size="26.8" fill="#000">1,076</text>
<text x="1653.00" y="879.10" text-anchor="end" font-family="'DejaVu Sans',sans-serif" font-weight="400" font-size="26.8" fill="#000">32</text>
<text x="1814.50" y="879.10" text-anchor="end" font-family="'DejaVu Sans',sans-serif" font-weight="400" font-size="26.8" fill="#000">2.9%</text>
</svg></body></html>
